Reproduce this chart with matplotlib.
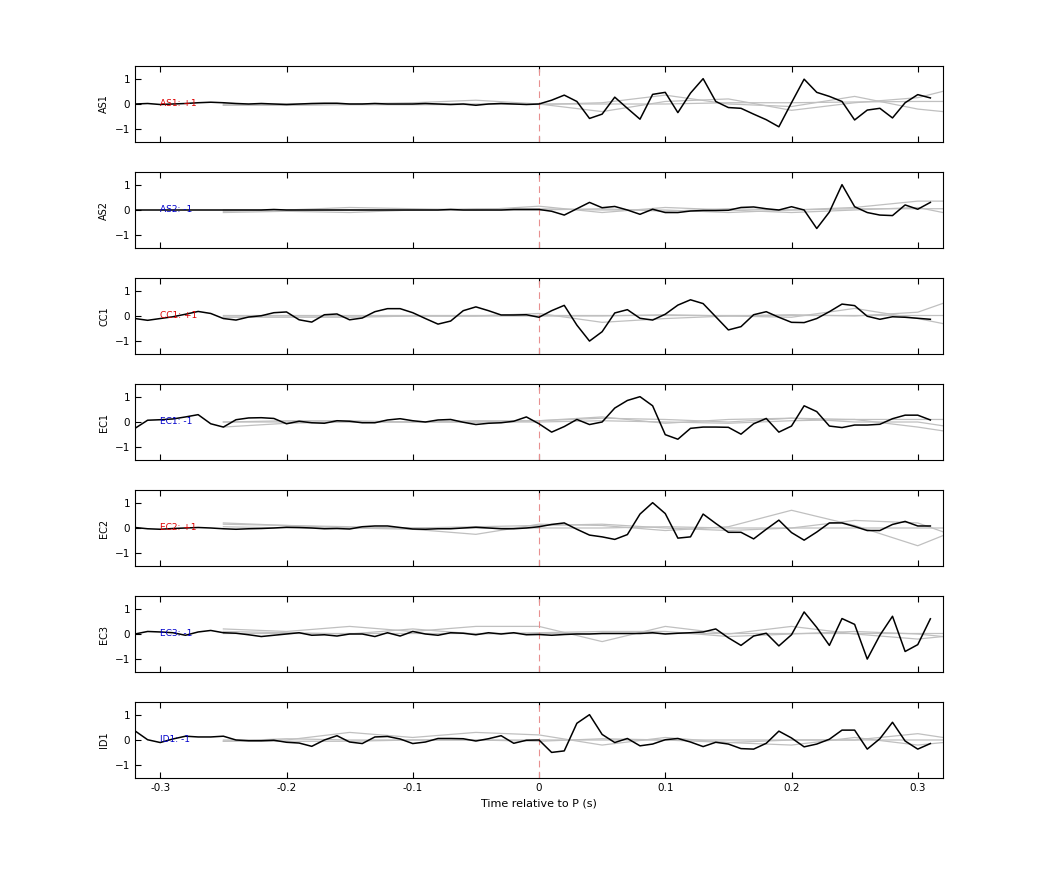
import numpy as np
import matplotlib.pyplot as plt

# Station names, polarity and label colours
stations = ["AS1", "AS2", "CC1", "EC1", "EC2", "EC3", "ID1"]
polarity = ["+1", "-1", "+1", "-1", "+1", "-1", "-1"]
label_colors = ["#dd0000", "#0000cc", "#dd0000", "#0000cc", "#dd0000", "#0000cc", "#0000cc"]

# Time axis of black traces: -0.32 .. 0.31 s, step 0.01
t = np.round(np.arange(-32, 32) * 0.01, 2)

black = {
    "AS1": [0.0, 0.02, -0.02, 0.0, 0.02, 0.05, 0.07, 0.05, 0.02, 0.0, 0.02, 0.0, -0.02, 0.0, 0.02, 0.03,
            0.03, 0.0, 0.0, 0.02, 0.0, 0.0, 0.0, 0.02, 0.0, -0.02, 0.0, -0.05, 0.0, 0.02, 0.0, -0.02,
            0.0, 0.15, 0.35, 0.1, -0.57, -0.4, 0.27, -0.17, -0.6, 0.38, 0.46, -0.34, 0.43, 1.0, 0.1, -0.14,
            -0.17, -0.4, -0.62, -0.9, 0.05, 0.98, 0.46, 0.3, 0.1, -0.63, -0.24, -0.17, -0.55, 0.05, 0.37, 0.24],
    "AS2": [0.0, 0.0, 0.0, 0.0, 0.0, 0.0, 0.0, 0.0, 0.0, 0.0, 0.0, 0.02, 0.0, 0.0, 0.0, 0.0,
            0.0, 0.0, 0.0, 0.0, 0.0, 0.0, 0.0, 0.0, 0.0, 0.02, 0.0, 0.0, 0.0, 0.0, 0.02, 0.02,
            0.02, -0.05, -0.2, 0.05, 0.3, 0.09, 0.14, 0.0, -0.17, 0.03, -0.1, -0.1, -0.04, -0.02, -0.02, -0.01,
            0.1, 0.12, 0.05, 0.0, 0.13, 0.0, -0.73, -0.08, 1.0, 0.13, -0.1, -0.2, -0.22, 0.2, 0.03, 0.3],
    "CC1": [-0.1, -0.17, -0.1, -0.03, 0.07, 0.18, 0.1, -0.1, -0.16, -0.04, 0.01, 0.13, 0.16, -0.15, -0.24, 0.05,
            0.08, -0.15, -0.08, 0.17, 0.29, 0.29, 0.13, -0.1, -0.32, -0.2, 0.21, 0.36, 0.21, 0.04, 0.04, 0.05,
            -0.05, 0.21, 0.42, -0.36, -0.99, -0.62, 0.12, 0.25, -0.09, -0.16, 0.07, 0.43, 0.64, 0.49, -0.03, -0.55,
            -0.42, 0.05, 0.17, -0.05, -0.25, -0.26, -0.1, 0.17, 0.47, 0.41, -0.01, -0.13, -0.03, -0.05, -0.09, -0.13],
    "EC1": [-0.25, 0.07, 0.09, 0.12, 0.2, 0.29, -0.07, -0.2, 0.09, 0.16, 0.17, 0.14, -0.07, 0.03, -0.03, -0.05,
            0.05, 0.03, -0.03, -0.03, 0.08, 0.13, 0.05, 0.0, 0.08, 0.1, -0.01, -0.1, -0.05, -0.03, 0.03, 0.2,
            -0.07, -0.4, -0.18, 0.1, -0.1, 0.0, 0.55, 0.85, 1.0, 0.64, -0.5, -0.68, -0.25, -0.2, -0.2, -0.21,
            -0.48, -0.07, 0.14, -0.4, -0.16, 0.64, 0.41, -0.16, -0.22, -0.12, -0.12, -0.09, 0.13, 0.27, 0.27, 0.08],
    "EC2": [0.02, -0.03, -0.05, -0.02, 0.0, 0.02, 0.0, -0.03, -0.05, -0.03, -0.02, 0.0, 0.03, 0.02, 0.0, -0.03,
            -0.02, -0.04, 0.05, 0.08, 0.08, 0.02, -0.04, -0.05, -0.03, -0.03, 0.0, 0.03, 0.0, -0.03, -0.03, 0.0,
            0.05, 0.14, 0.2, -0.05, -0.28, -0.35, -0.45, -0.26, 0.55, 1.0, 0.57, -0.4, -0.35, 0.55, 0.18, -0.17,
            -0.17, -0.43, -0.05, 0.31, -0.18, -0.48, -0.16, 0.2, 0.2, 0.06, -0.1, -0.1, 0.14, 0.26, 0.08, 0.08],
    "EC3": [0.0, 0.1, 0.08, 0.05, -0.05, 0.08, 0.14, 0.05, 0.03, -0.03, -0.1, -0.05, 0.0, 0.05, -0.05, -0.03,
            -0.08, 0.0, 0.0, -0.1, 0.05, -0.08, 0.1, 0.0, -0.05, 0.05, 0.03, -0.03, 0.05, 0.0, 0.05, -0.03,
            -0.02, -0.05, -0.02, 0.0, 0.0, 0.02, 0.02, 0.02, 0.02, 0.05, 0.0, 0.03, 0.05, 0.08, 0.2, -0.15,
            -0.45, -0.08, 0.03, -0.47, -0.03, 0.87, 0.26, -0.45, 0.61, 0.38, -0.99, -0.05, 0.7, -0.69, -0.42, 0.6],
    "ID1": [0.36, 0.01, -0.1, 0.04, 0.15, 0.12, 0.12, 0.15, 0.0, -0.03, -0.03, -0.01, -0.09, -0.12, -0.25, 0.0,
            0.17, -0.08, -0.14, 0.12, 0.14, 0.04, -0.14, -0.08, 0.06, 0.06, 0.05, -0.04, 0.05, 0.17, -0.13, -0.01,
            0.0, -0.49, -0.43, 0.66, 1.0, 0.22, -0.1, 0.06, -0.23, -0.16, 0.01, 0.06, -0.08, -0.26, -0.09, -0.16,
            -0.34, -0.36, -0.13, 0.35, 0.08, -0.27, -0.16, 0.03, 0.39, 0.39, -0.36, 0.05, 0.7, -0.04, -0.36, -0.14],
}

# Grey reference traces, sampled coarsely
t_gray = [-0.25, -0.2, -0.15, -0.1, -0.05, 0.0, 0.05, 0.1, 0.15, 0.2, 0.25, 0.3, 0.32]
gray = {
    "AS1": [[0.0, -0.05, 0.0, 0.05, 0.15, 0.0, -0.3, 0.1, 0.2, -0.25, 0.05, 0.25, 0.5],
            [-0.05, 0.0, 0.0, 0.0, 0.0, -0.02, 0.05, 0.35, 0.0, -0.1, 0.3, -0.2, -0.3],
            [-0.05, -0.05, -0.03, -0.03, -0.02, 0.0, 0.0, 0.0, 0.05, 0.05, 0.08, 0.1, 0.1]],
    "AS2": [[-0.1, -0.05, -0.1, 0.0, 0.05, 0.05, 0.0, 0.0, -0.1, 0.0, 0.1, 0.35, 0.35],
            [-0.05, 0.0, 0.1, 0.05, 0.0, 0.15, -0.1, 0.1, 0.0, -0.1, 0.0, 0.1, -0.1],
            [0.0, 0.0, 0.0, 0.0, 0.0, 0.0, 0.05, -0.05, 0.05, 0.0, 0.05, 0.05, 0.05]],
    "CC1": [[-0.05, -0.05, -0.05, 0.0, 0.0, 0.1, -0.25, -0.1, 0.0, -0.05, 0.3, -0.1, -0.3],
            [0.0, 0.0, 0.0, 0.0, 0.0, 0.0, 0.0, 0.05, 0.0, 0.05, 0.0, 0.15, 0.5],
            [0.05, 0.05, 0.05, 0.05, 0.05, 0.05, 0.05, 0.05, 0.05, 0.05, 0.05, 0.05, 0.05]],
    "EC1": [[-0.2, -0.05, 0.0, 0.0, 0.0, 0.05, 0.15, 0.1, 0.0, 0.15, 0.1, -0.2, -0.35],
            [0.0, 0.05, 0.05, 0.0, 0.05, 0.05, 0.2, -0.05, 0.1, 0.15, 0.0, 0.0, -0.15],
            [0.0, 0.0, 0.0, 0.0, 0.0, 0.0, 0.05, 0.0, -0.05, 0.05, 0.1, 0.1, 0.1]],
    "EC2": [[0.2, 0.1, 0.0, -0.05, -0.25, 0.15, 0.1, -0.1, 0.05, 0.7, 0.1, -0.7, -0.3],
            [0.15, 0.1, 0.05, 0.0, 0.05, 0.1, 0.15, 0.0, -0.1, 0.0, 0.3, 0.2, -0.15],
            [0.05, 0.0, 0.0, 0.0, 0.0, 0.0, 0.0, 0.05, 0.0, 0.0, 0.0, 0.0, 0.0]],
    "EC3": [[0.2, 0.1, 0.3, 0.1, 0.3, 0.3, -0.3, 0.3, 0.0, 0.3, 0.0, -0.2, -0.1],
            [0.1, 0.05, 0.0, 0.2, 0.0, 0.05, 0.1, 0.1, -0.1, 0.0, 0.1, 0.0, -0.1],
            [0.05, 0.05, 0.05, 0.05, 0.05, 0.05, 0.05, 0.05, 0.05, 0.05, 0.05, 0.05, 0.05]],
    "ID1": [[0.0, 0.0, 0.3, 0.1, 0.3, 0.2, -0.2, 0.1, -0.1, -0.2, 0.1, -0.2, -0.1],
            [-0.05, 0.05, 0.0, 0.0, 0.0, -0.05, 0.05, 0.0, -0.1, 0.0, 0.0, 0.25, 0.1],
            [-0.05, -0.05, -0.05, 0.0, 0.0, 0.0, 0.0, 0.0, 0.0, 0.0, 0.0, 0.0, 0.0]],
}

fig = plt.figure(figsize=(10.42, 8.75), dpi=100)
W, H = 1042.0, 875.0
left, right = 135 / W, 943 / W

for i, st in enumerate(stations):
    top_px = 66 + 106 * i
    ax = fig.add_axes([left, 1 - (top_px + 76) / H, right - left, 76 / H])
    for g in gray[st]:
        ax.plot(t_gray, g, color="#c0c0c0", linewidth=0.9)
    ax.axvline(0, color="#e89090", linestyle=(0, (6, 4)), linewidth=0.8)
    ax.plot(t, black[st], color="black", linewidth=1.1)
    ax.text(-0.30, 0, f"{st}: {polarity[i]}", color=label_colors[i], fontsize=6.5,
            va="center", ha="left")
    ax.set_xlim(-0.32, 0.32)
    ax.set_ylim(-1.5, 1.5)
    ax.set_yticks([-1, 0, 1])
    ax.set_xticks([-0.3, -0.2, -0.1, 0, 0.1, 0.2, 0.3])
    ax.tick_params(direction="in", top=True, right=False, labelsize=7.5, length=4)
    ax.set_ylabel(st, fontsize=7)
    if i < len(stations) - 1:
        ax.set_xticklabels([])
    else:
        ax.set_xticklabels(["-0.3", "-0.2", "-0.1", "0", "0.1", "0.2", "0.3"])
        ax.set_xlabel("Time relative to P (s)", fontsize=8)

fig.savefig("out.png", dpi=100)
